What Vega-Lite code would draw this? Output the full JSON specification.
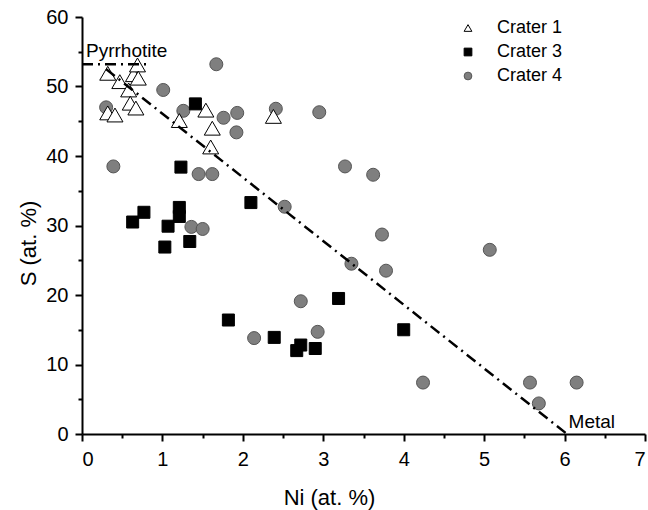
{
  "$schema": "https://vega.github.io/schema/vega-lite/v6.json",
  "width": 563,
  "height": 417,
  "autosize": {"type": "none"},
  "padding": {"left": 82, "top": 17, "right": 3, "bottom": 76},
  "background": "white",
  "config": {
    "view": {"stroke": null},
    "font": "Liberation Sans",
    "axis": {
      "grid": false,
      "domainColor": "black",
      "tickColor": "black",
      "labelColor": "black",
      "titleColor": "black",
      "labelFont": "Liberation Sans",
      "titleFont": "Liberation Sans",
      "titleFontWeight": "normal"
    },
    "legend": {
      "orient": "none",
      "legendX": 377,
      "legendY": 2,
      "labelFont": "Liberation Sans",
      "labelFontSize": 18,
      "labelColor": "black",
      "symbolSize": 60,
      "symbolStrokeWidth": 1,
      "labelOffset": 20,
      "rowPadding": 6
    }
  },
  "layer": [
    {
      "data": {
        "values": [
          {"crater": "Crater 4", "ni": 0.30, "s": 47.0},
          {"crater": "Crater 4", "ni": 0.39, "s": 38.5},
          {"crater": "Crater 4", "ni": 1.01, "s": 49.5},
          {"crater": "Crater 4", "ni": 1.26, "s": 46.5},
          {"crater": "Crater 4", "ni": 1.67, "s": 53.2},
          {"crater": "Crater 4", "ni": 1.76, "s": 45.5},
          {"crater": "Crater 4", "ni": 1.93, "s": 46.2},
          {"crater": "Crater 4", "ni": 1.92, "s": 43.4},
          {"crater": "Crater 4", "ni": 1.45, "s": 37.4},
          {"crater": "Crater 4", "ni": 1.62, "s": 37.4},
          {"crater": "Crater 4", "ni": 2.41, "s": 46.8},
          {"crater": "Crater 4", "ni": 2.95, "s": 46.3},
          {"crater": "Crater 4", "ni": 2.52, "s": 32.7},
          {"crater": "Crater 4", "ni": 1.36, "s": 29.8},
          {"crater": "Crater 4", "ni": 1.50, "s": 29.5},
          {"crater": "Crater 4", "ni": 3.27, "s": 38.5},
          {"crater": "Crater 4", "ni": 3.62, "s": 37.3},
          {"crater": "Crater 4", "ni": 3.73, "s": 28.7},
          {"crater": "Crater 4", "ni": 3.35, "s": 24.5},
          {"crater": "Crater 4", "ni": 3.78, "s": 23.5},
          {"crater": "Crater 4", "ni": 2.72, "s": 19.1},
          {"crater": "Crater 4", "ni": 2.14, "s": 13.8},
          {"crater": "Crater 4", "ni": 2.93, "s": 14.7},
          {"crater": "Crater 4", "ni": 4.24, "s": 7.4},
          {"crater": "Crater 4", "ni": 5.07, "s": 26.5},
          {"crater": "Crater 4", "ni": 5.57, "s": 7.4},
          {"crater": "Crater 4", "ni": 5.68, "s": 4.4},
          {"crater": "Crater 4", "ni": 6.15, "s": 7.4},
          {"crater": "Crater 3", "ni": 1.41, "s": 47.5},
          {"crater": "Crater 3", "ni": 1.23, "s": 38.4},
          {"crater": "Crater 3", "ni": 2.10, "s": 33.3},
          {"crater": "Crater 3", "ni": 0.77, "s": 31.9},
          {"crater": "Crater 3", "ni": 0.63, "s": 30.5},
          {"crater": "Crater 3", "ni": 1.21, "s": 32.6},
          {"crater": "Crater 3", "ni": 1.21, "s": 31.3},
          {"crater": "Crater 3", "ni": 1.07, "s": 29.9},
          {"crater": "Crater 3", "ni": 1.03, "s": 26.9},
          {"crater": "Crater 3", "ni": 1.34, "s": 27.7},
          {"crater": "Crater 3", "ni": 3.19, "s": 19.5},
          {"crater": "Crater 3", "ni": 1.82, "s": 16.4},
          {"crater": "Crater 3", "ni": 2.39, "s": 13.9},
          {"crater": "Crater 3", "ni": 2.72, "s": 12.8},
          {"crater": "Crater 3", "ni": 2.67, "s": 12.0},
          {"crater": "Crater 3", "ni": 2.90, "s": 12.3},
          {"crater": "Crater 3", "ni": 4.00, "s": 15.0},
          {"crater": "Crater 1", "ni": 0.32, "s": 51.9},
          {"crater": "Crater 1", "ni": 0.47, "s": 50.7},
          {"crater": "Crater 1", "ni": 0.32, "s": 46.2},
          {"crater": "Crater 1", "ni": 0.41, "s": 45.9},
          {"crater": "Crater 1", "ni": 0.58, "s": 49.5},
          {"crater": "Crater 1", "ni": 0.60, "s": 47.6},
          {"crater": "Crater 1", "ni": 0.64, "s": 51.7},
          {"crater": "Crater 1", "ni": 0.69, "s": 53.1},
          {"crater": "Crater 1", "ni": 0.70, "s": 51.2},
          {"crater": "Crater 1", "ni": 0.67, "s": 46.9},
          {"crater": "Crater 1", "ni": 1.21, "s": 45.1},
          {"crater": "Crater 1", "ni": 1.54, "s": 46.6},
          {"crater": "Crater 1", "ni": 1.62, "s": 44.0},
          {"crater": "Crater 1", "ni": 1.60, "s": 41.3},
          {"crater": "Crater 1", "ni": 2.38, "s": 45.7}
        ]
      },
      "mark": {
        "type": "point", "filled": true, "strokeWidth": 1, "opacity": 1,
        "size": {"expr": "datum.crater === 'Crater 1' ? 256 : (datum.crater === 'Crater 3' ? 144 : 169)"}
      },
      "encoding": {
        "x": {
          "field": "ni", "type": "quantitative",
          "scale": {"domain": [0, 7], "nice": false, "zero": true},
          "axis": {
            "orient": "bottom",
            "values": [0, 1, 2, 3, 4, 5, 6, 7],
            "tickSize": 7, "tickWidth": 2, "domainWidth": 2,
            "labelFontSize": 20, "labelPadding": 8,
            "title": "Ni (at. %)", "titleFontSize": 22,
            "titleX": 247, "titleY": 70, "titleBaseline": "alphabetic", "titleAlign": "center"
          }
        },
        "y": {
          "field": "s", "type": "quantitative",
          "scale": {"domain": [0, 60], "nice": false, "zero": true},
          "axis": {
            "orient": "left",
            "values": [0, 10, 20, 30, 40, 50, 60],
            "tickSize": 7, "tickWidth": 2, "domainWidth": 2,
            "labelFontSize": 20, "labelPadding": 7,
            "title": "S (at. %)", "titleFontSize": 22,
            "titleX": -54, "titleY": 226, "titleAngle": -90, "titleBaseline": "middle", "titleAlign": "center"
          }
        },
        "shape": {
          "field": "crater", "type": "nominal",
          "scale": {"domain": ["Crater 1", "Crater 3", "Crater 4"], "range": ["triangle-up", "square", "circle"]},
          "legend": {"title": null}
        },
        "fill": {
          "field": "crater", "type": "nominal",
          "scale": {"domain": ["Crater 1", "Crater 3", "Crater 4"], "range": ["white", "black", "#7f7f7f"]},
          "legend": {"title": null}
        },
        "stroke": {
          "field": "crater", "type": "nominal",
          "scale": {"domain": ["Crater 1", "Crater 3", "Crater 4"], "range": ["black", "black", "#555555"]},
          "legend": {"title": null}
        }
      }
    },
    {
      "data": {
        "values": [
          {"seg": "pyrrhotite", "ni": 0, "s": 53.2},
          {"seg": "pyrrhotite", "ni": 0.85, "s": 53.2},
          {"seg": "trend", "ni": 0.3, "s": 52.5},
          {"seg": "trend", "ni": 6.03, "s": 0}
        ]
      },
      "mark": {"type": "line", "color": "black", "strokeWidth": 2.5, "strokeDash": [11, 5, 2, 5]},
      "encoding": {
        "x": {
          "field": "ni", "type": "quantitative",
          "scale": {"domain": [0, 7], "nice": false, "zero": true},
          "axis": {
            "orient": "bottom",
            "values": [0.5, 1.5, 2.5, 3.5, 4.5, 5.5, 6.5],
            "labels": false, "domain": false, "tickSize": 4, "tickWidth": 2, "title": null
          }
        },
        "y": {
          "field": "s", "type": "quantitative",
          "scale": {"domain": [0, 60], "nice": false, "zero": true},
          "axis": {
            "orient": "left",
            "values": [5, 15, 25, 35, 45, 55],
            "labels": false, "domain": false, "tickSize": 4, "tickWidth": 2, "title": null
          }
        },
        "detail": {"field": "seg", "type": "nominal"}
      }
    },
    {
      "data": {
        "values": [
          {"label": "Pyrrhotite", "ni": 0.05, "s": 54.3},
          {"label": "Metal", "ni": 6.05, "s": 0.9}
        ]
      },
      "mark": {"type": "text", "align": "left", "baseline": "alphabetic", "fontSize": 19, "font": "Liberation Sans", "color": "black"},
      "encoding": {
        "x": {"field": "ni", "type": "quantitative", "axis": null},
        "y": {"field": "s", "type": "quantitative", "axis": null},
        "text": {"field": "label", "type": "nominal"}
      }
    }
  ],
  "resolve": {"axis": {"x": "independent", "y": "independent"}}
}
